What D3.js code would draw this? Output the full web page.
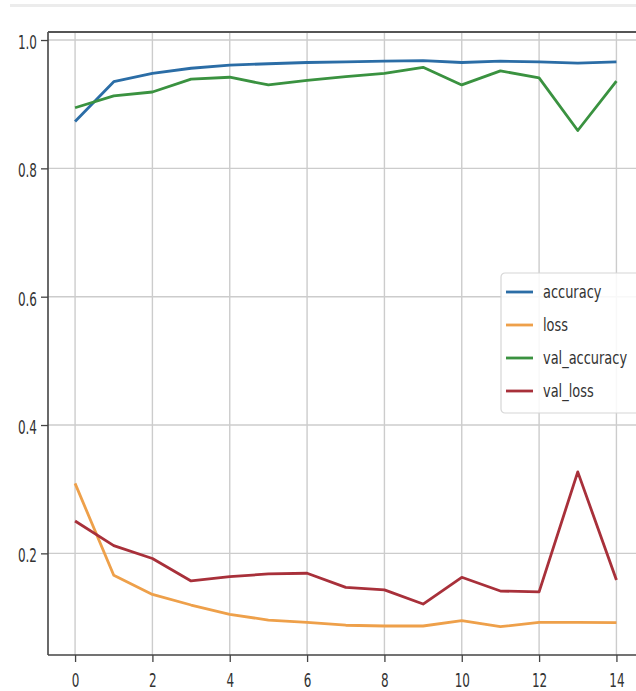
<!DOCTYPE html>
<html>
<head>
<meta charset="utf-8">
<script src="https://cdn.jsdelivr.net/npm/d3@7"></script>
<style>
  html, body { margin: 0; padding: 0; background: #fff; }
  svg { display: block; }
  text { font-family: "DejaVu Sans", sans-serif; fill: #333; }
</style>
</head>
<body>
<svg id="chart" width="636" height="691"></svg>
<script>
// ---- data ----
const epochs = [0,1,2,3,4,5,6,7,8,9,10,11,12,13,14];
const accuracy     = [0.873,0.935,0.948,0.956,0.961,0.963,0.965,0.966,0.967,0.968,0.965,0.967,0.966,0.964,0.966];
const loss         = [0.309,0.166,0.136,0.1195,0.105,0.096,0.0925,0.088,0.0868,0.0868,0.095,0.0857,0.0925,0.0925,0.092];
const valAccuracy  = [0.8945,0.913,0.919,0.939,0.942,0.930,0.937,0.943,0.948,0.9575,0.930,0.952,0.941,0.859,0.936];
const valLoss      = [0.2504,0.212,0.192,0.157,0.1636,0.168,0.169,0.147,0.143,0.121,0.1627,0.1413,0.140,0.327,0.1585];
const seriesNames  = ["accuracy","loss","val_accuracy","val_loss"];
const seriesColors = ["#2b6da6","#eea04a","#3a9240","#a8303a"];
const xTicks = [0,2,4,6,8,10,12,14];
const yTicks = [0.2,0.4,0.6,0.8,1.0];

const seriesValues = [accuracy, loss, valAccuracy, valLoss];

const svg = d3.select("#chart");

// faint band at top of image
svg.append("rect").attr("x",10).attr("y",4).attr("width",626).attr("height",3).attr("fill","#ececec");

const x = d3.scaleLinear().domain([-0.7, 14.7]).range([48, 643.5]);
const y = d3.scaleLinear().domain([0.0416, 1.0125]).range([655, 32]);

const L = x.range()[0], R = x.range()[1], T = y.range()[1], B = y.range()[0];

// grid
const grid = svg.append("g");
grid.selectAll("line.v").data(xTicks).join("line")
  .attr("x1", d => x(d)).attr("x2", d => x(d)).attr("y1", T).attr("y2", B)
  .attr("stroke", "#cccccc").attr("stroke-width", 1.4);
grid.selectAll("line.h").data(yTicks).join("line")
  .attr("x1", L).attr("x2", R).attr("y1", d => y(d)).attr("y2", d => y(d))
  .attr("stroke", "#cccccc").attr("stroke-width", 1.4);

// lines
const line = d3.line().x((d,i) => x(epochs[i])).y(d => y(d));
seriesValues.forEach((vals, k) => {
  svg.append("path").datum(vals)
    .attr("d", line)
    .attr("fill", "none")
    .attr("stroke", seriesColors[k])
    .attr("stroke-width", 2.8)
    .attr("stroke-linejoin", "round")
    .attr("stroke-linecap", "butt");
});

// axes
const xAxis = svg.append("g").attr("transform", `translate(0,${B})`)
  .call(d3.axisBottom(x).tickValues(xTicks).tickSize(7).tickSizeOuter(0).tickFormat(d3.format("d")));
const yAxis = svg.append("g").attr("transform", `translate(${L},0)`)
  .call(d3.axisLeft(y).tickValues(yTicks).tickSize(7).tickSizeOuter(0).tickFormat(d3.format(".1f")));

[xAxis, yAxis].forEach(g => {
  g.select(".domain").remove();
  g.selectAll(".tick line").attr("stroke", "#444").attr("stroke-width", 1.3);
  g.selectAll(".tick text").attr("font-size", 20).attr("fill", "#2a2a2a")
    .style("font-family", '"DejaVu Sans", sans-serif');
});
const sx = 0.6;
yAxis.selectAll(".tick text").attr("x", -11 / sx).attr("dy", "0.42em")
  .attr("transform", `scale(${sx},1)`);
xAxis.selectAll(".tick text").attr("y", 18).attr("dy", "0.71em")
  .attr("transform", `scale(${sx},1)`);

// spines
const sp = svg.append("g").attr("stroke", "#444").attr("fill", "none");
sp.append("line").attr("x1", L).attr("x2", L).attr("y1", T).attr("y2", B).attr("stroke-width", 1.6);
sp.append("line").attr("x1", L).attr("x2", R).attr("y1", B).attr("y2", B).attr("stroke-width", 1.6);
sp.append("line").attr("x1", L).attr("x2", R).attr("y1", T).attr("y2", T).attr("stroke-width", 2.2).attr("stroke", "#555");
sp.append("line").attr("x1", R).attr("x2", R).attr("y1", T).attr("y2", B).attr("stroke-width", 1.6);

// legend
const lg = svg.append("g").attr("transform", "translate(501,273)");
lg.append("rect").attr("x", 0).attr("y", 0).attr("width", 140).attr("height", 140)
  .attr("rx", 4).attr("fill", "#fff").attr("fill-opacity", 0.85)
  .attr("stroke", "#d6d6d6").attr("stroke-width", 1.2);
const items = lg.selectAll("g.item").data(seriesNames).join("g")
  .attr("transform", (d,i) => `translate(0,${19 + i*33})`);
items.append("line").attr("x1", 5).attr("x2", 32).attr("y1", 0).attr("y2", 0)
  .attr("stroke", (d,i) => seriesColors[i]).attr("stroke-width", 2.8);
items.append("text").text(d => d)
  .attr("x", 42 / 0.72).attr("y", 0).attr("dy", "0.32em")
  .attr("font-size", 18).attr("fill", "#2a2a2a")
  .attr("transform", "scale(0.72,1)");
</script>
</body>
</html>
